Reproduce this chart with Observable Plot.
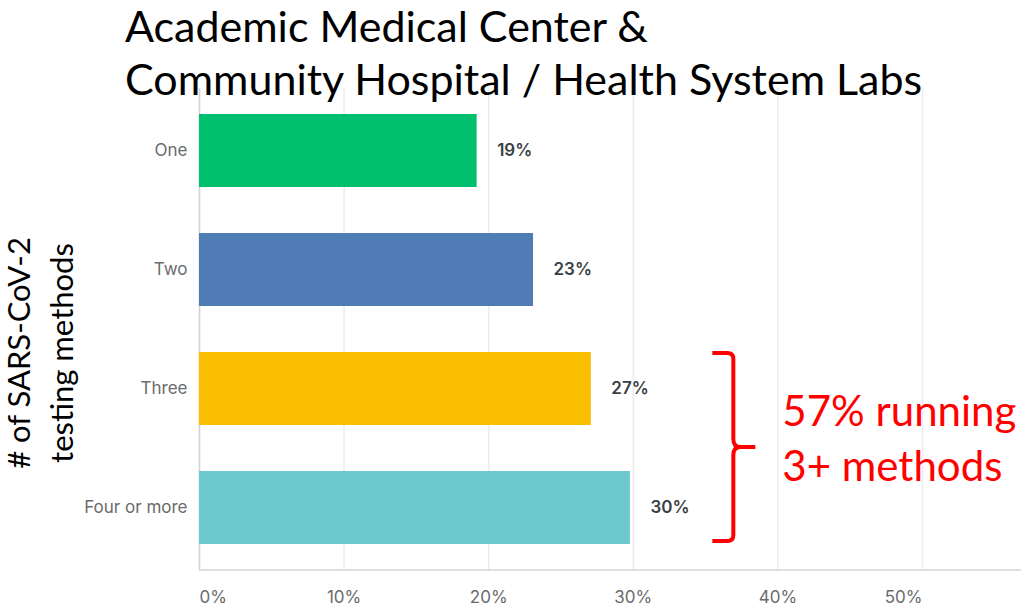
<!DOCTYPE html>
<html>
<head>
<meta charset="utf-8">
<script src="https://cdn.jsdelivr.net/npm/d3@7"></script>
<script src="https://cdn.jsdelivr.net/npm/@observablehq/plot@0.6"></script>
<style>
  html, body { margin: 0; padding: 0; background: #ffffff; }
  #chart { width: 1021px; height: 610px; overflow: hidden; }
</style>
</head>
<body>
<div id="chart"></div>
<script>
// ---- data ----
const categories = ["One", "Two", "Three", "Four or more"];
const shares = [19.2, 23.1, 27.1, 29.8];
const valueLabels = ["19%", "23%", "27%", "30%"];
const barColors = ["#00BF6F", "#507CB6", "#F9BE00", "#6BC8CD"];
const xTicks = [0, 10, 20, 30, 40, 50];
const titleLines = ["Academic Medical Center &", "Community Hospital / Health System Labs"];
const yTitleLines = ["# of SARS-CoV-2", "testing methods"];
const noteLines = ["57% running", "3+ methods"];
const braceFrom = "Three";
const braceTo = "Four or more";

const rows = categories.map((c, i) => ({category: c, share: shares[i], label: valueLabels[i]}));

const RED = "#ff0000";
const SVGNS = "http://www.w3.org/2000/svg";

function addText(g, txt, attrs) {
  const t = document.createElementNS(SVGNS, "text");
  for (const k in attrs) t.setAttribute(k, attrs[k]);
  t.textContent = txt;
  g.appendChild(t);
  return t;
}

function decorations(a, b, c, d) {
  // Plot 0.6 render signature: (index, scales, values, dimensions, context)
  let scales, dims;
  if (a && typeof a.x === "function") { scales = a; dims = b; } else { scales = b; dims = d; }
  const g = document.createElementNS(SVGNS, "g");
  const x = scales.x, y = scales.y;
  const bw = typeof y.bandwidth === "function" ? y.bandwidth() : 74;
  const W = dims.width, H = dims.height;
  const bottom = H - dims.marginBottom;

  // bottom axis line
  const base = document.createElementNS(SVGNS, "line");
  base.setAttribute("x1", dims.marginLeft); base.setAttribute("x2", W);
  base.setAttribute("y1", bottom); base.setAttribute("y2", bottom);
  base.setAttribute("stroke", "#d4d4d4"); base.setAttribute("stroke-width", 1.5);
  g.appendChild(base);

  // brace
  const top = y(braceFrom) + 1, bot = y(braceTo) + bw - 3;
  const mid = (top + bot) / 2;
  const x0 = x(35.5), xv = x0 + 21, xt = xv + 22;
  const p = `M${x0},${top} H${xv - 6} Q${xv},${top} ${xv},${top + 6} V${mid - 8} Q${xv},${mid} ${xv + 7},${mid} H${xt}` +
            ` M${xv + 7},${mid} Q${xv},${mid} ${xv},${mid + 8} V${bot - 6} Q${xv},${bot} ${xv - 6},${bot} H${x0}`;
  const path = document.createElementNS(SVGNS, "path");
  path.setAttribute("d", p);
  path.setAttribute("fill", "none");
  path.setAttribute("stroke", RED);
  path.setAttribute("stroke-width", 4);
  path.setAttribute("stroke-linejoin", "round");
  g.appendChild(path);

  // note text
  noteLines.forEach((t, i) => {
    addText(g, t, {x: xt + 27, y: mid - 21 + i * 55, fill: RED, "text-anchor": "start",
      "font-family": "Lato, sans-serif", "font-size": 42});
  });

  // title
  titleLines.forEach((t, i) => {
    addText(g, t, {x: 125, y: 42 + i * 53, fill: "#000", "text-anchor": "start",
      "font-family": "Lato, sans-serif", "font-size": 43});
  });

  // y title (rotated)
  const cy = (y(categories[0]) + y(categories[categories.length - 1]) + bw) / 2 + 24;
  yTitleLines.forEach((t, i) => {
    addText(g, t, {transform: `translate(${30 + i * 43},${cy}) rotate(-90)`, "text-anchor": "middle",
      fill: "#000", "font-family": "Lato, sans-serif", "font-size": 31});
  });
  return g;
}

const plot = Plot.plot({
  width: 1021,
  height: 610,
  marginLeft: 199,
  marginRight: 99,
  marginTop: 88,
  marginBottom: 40,
  style: {fontFamily: "Inter, sans-serif", background: "#ffffff"},
  x: {domain: [0, 50], axis: null},
  y: {domain: categories, paddingInner: 0.383, paddingOuter: 0.2, axis: null},
  color: {domain: categories, range: barColors},
  marks: [
    Plot.ruleX(xTicks, {stroke: "#ececec", strokeWidth: 1.5}),
    Plot.ruleX([0], {stroke: "#d4d4d4", strokeWidth: 1.5}),
    Plot.barX(rows, {x: "share", y: "category", fill: "category"}),
    Plot.text(rows, {x: 0, y: "category", text: "category", dx: -12, textAnchor: "end", fontSize: 17, fill: "#6b6b6b"}),
    Plot.text(rows, {x: "share", y: "category", text: "label", dx: 20, textAnchor: "start", fontSize: 17, fontWeight: 600, fill: "#3a3f45"}),
    Plot.text(xTicks.slice(0, 1), {x: d => d, frameAnchor: "bottom", dy: 32, text: d => d + "%", textAnchor: "start", fontSize: 17, fill: "#6b6b6b"}),
    Plot.text(xTicks.slice(1, -1), {x: d => d, frameAnchor: "bottom", dy: 32, text: d => d + "%", textAnchor: "middle", fontSize: 17, fill: "#6b6b6b"}),
    Plot.text(xTicks.slice(-1), {x: d => d, frameAnchor: "bottom", dy: 32, text: d => d + "%", textAnchor: "end", fontSize: 17, fill: "#6b6b6b"}),
    decorations
  ]
});
document.getElementById("chart").appendChild(plot);
</script>
</body>
</html>
